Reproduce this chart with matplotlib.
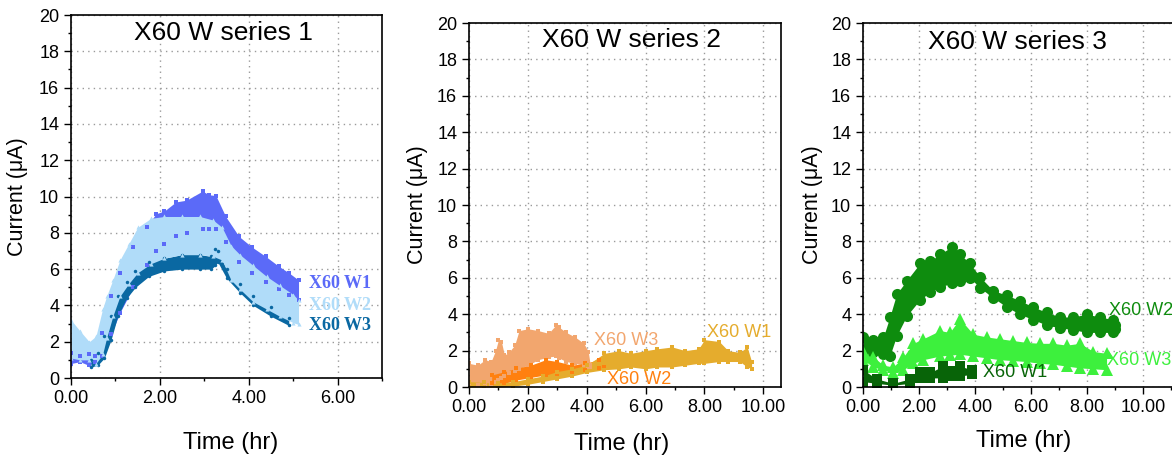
import matplotlib
matplotlib.use("Agg")
import matplotlib.pyplot as plt
from matplotlib.ticker import MultipleLocator, FormatStrFormatter

plt.rcParams['font.family'] = ['Liberation Sans', 'DejaVu Sans']

# ---------------------------------------------------------------------------
# Series 1: current envelopes (lower / upper edge of each point cloud), uA
# ---------------------------------------------------------------------------
s1_w1_t = [0, 0.2, 0.4, 0.55, 0.7, 0.9, 1.1, 1.4, 1.7, 1.91, 2.1, 2.36, 2.6,
           2.96, 3.1, 3.26, 3.48, 3.78, 4.08, 4.38, 4.68, 4.9, 5.12]
s1_w1_hi = [1.4, 1.2, 1.3, 1.2, 2.5, 4.5, 5.8, 7.2, 8.3, 9.05, 9.2, 9.7, 9.8,
            10.3, 10.1, 10.05, 8.9, 7.8, 7.2, 6.7, 6.15, 5.8, 5.4]
s1_w1_lo = [0.8, 0.9, 0.7, 0.9, 1.2, 2.4, 3.6, 5.0, 6.2, 7.0, 7.4, 7.8, 8.0,
            8.2, 8.2, 8.2, 7.5, 6.4, 5.8, 5.3, 4.9, 4.6, 4.3]

s1_w2_t = [0, 0.2, 0.41, 0.56, 0.71, 0.8, 0.94, 1.1, 1.3, 1.5, 1.8, 2.1, 2.5,
           2.9, 3.2, 3.4, 3.6, 3.8, 4.1, 4.4, 4.7, 5.0, 5.12]
s1_w2_hi = [3.2, 2.6, 2.0, 2.3, 3.8, 4.5, 5.4, 6.5, 7.4, 8.3, 8.8, 8.9, 8.9,
            8.9, 8.7, 8.3, 7.3, 6.8, 6.2, 5.6, 5.1, 4.6, 4.3]
s1_w2_lo = [1.1, 1.0, 1.0, 0.8, 1.3, 2.2, 3.4, 4.5, 5.2, 5.8, 6.3, 6.6, 6.8,
            6.8, 6.7, 6.5, 5.4, 4.9, 4.2, 3.8, 3.4, 3.05, 2.95]

s1_w3_t = [0.45, 0.6, 0.75, 0.9, 1.05, 1.25, 1.45, 1.75, 2.1, 2.5, 2.9, 3.15,
           3.25, 3.3, 3.5, 3.8, 4.1, 4.5, 4.9]
s1_w3_hi = [1.0, 1.4, 2.3, 3.4, 4.5, 5.3, 5.9, 6.4, 6.6, 6.8, 6.8, 6.7,
            7.1, 7.0, 6.0, 5.2, 4.5, 3.9, 3.3]
s1_w3_lo = [0.6, 0.7, 1.1, 2.1, 3.4, 4.4, 5.0, 5.6, 5.9, 6.0, 6.0, 6.0,
            6.2, 6.4, 5.5, 4.7, 4.0, 3.4, 2.9]

# ---------------------------------------------------------------------------
# Series 2
# ---------------------------------------------------------------------------
s2_w1_t = [0, 0.5, 1.0, 1.5, 2.0, 2.5, 3.0, 3.5, 4.0, 4.6, 5.1, 5.5, 6.0,
           6.4, 6.9, 7.35, 7.8, 8.0, 8.5, 8.8, 9.2, 9.45, 9.6]
s2_w1_hi = [0.3, 0.25, 0.2, 0.3, 0.45, 0.6, 0.85, 1.0, 1.2, 1.85, 2.0, 1.85,
            2.0, 2.1, 2.2, 2.0, 2.1, 2.6, 2.5, 2.0, 1.9, 2.2, 1.4]
s2_w1_lo = [0.0, 0.0, 0.0, 0.05, 0.15, 0.3, 0.45, 0.6, 0.8, 0.95, 1.0, 1.1,
            1.0, 1.1, 1.1, 1.2, 1.3, 1.3, 1.4, 1.4, 1.4, 1.1, 1.0]

s2_w2_t = [0.77, 1.2, 1.6, 2.1, 2.6, 3.0, 3.5, 3.95, 4.4, 4.57]
s2_w2_hi = [0.66, 0.84, 1.03, 1.2, 1.5, 1.4, 1.2, 1.3, 1.5, 1.85]
s2_w2_lo = [0.2, 0.2, 0.38, 0.53, 0.66, 0.71, 0.84, 0.93, 1.03, 1.1]

s2_w3_t = [0, 0.3, 0.55, 0.75, 0.9, 1.0, 1.1, 1.2, 1.35, 1.55, 1.7, 2.0,
           2.35, 2.7, 2.95, 3.05, 3.3, 3.6, 3.9, 4.05, 4.12]
s2_w3_hi = [1.3, 1.2, 1.5, 1.4, 2.0, 2.6, 2.5, 1.75, 1.9, 2.3, 3.1, 3.2,
            3.1, 2.95, 3.4, 3.3, 3.0, 2.75, 2.4, 1.95, 1.2]
s2_w3_lo = [0.1, 0.1, 0.1, 0.15, 0.3, 0.4, 0.5, 0.6, 0.75, 0.9, 1.0, 1.2,
            1.5, 1.65, 1.7, 1.6, 1.4, 1.3, 1.2, 1.1, 1.1]

# ---------------------------------------------------------------------------
# Series 3 (marker centres of the upper / lower rows)
# ---------------------------------------------------------------------------
s3_w1_t = [0, 0.49, 1.08, 1.68, 2.04, 2.4, 2.87, 3.2, 3.46, 3.88]
s3_w1_hi = [0.95, 0.45, 0.2, 0.45, 0.8, 0.8, 1.15, 0.9, 1.15, 0.95]
s3_w1_lo = [0.3, 0.2, 0.1, 0.2, 0.5, 0.5, 0.5, 0.6, 0.6, 0.7]

s3_w2_t = [0, 0.37, 0.73, 0.96, 1.2, 1.56, 2.04, 2.39, 2.75, 3.17, 3.46, 3.82,
           4.18, 4.65, 5.13, 5.6, 6.08, 6.56, 7.04, 7.5, 7.99, 8.46, 8.94, 9.0]
s3_w2_hi = [2.75, 2.6, 2.75, 3.85, 5.1, 5.85, 6.8, 6.9, 7.3, 7.7, 7.3, 6.8,
            6.05, 5.3, 5.05, 4.75, 4.4, 4.1, 3.85, 3.85, 4.0, 3.85, 3.7, 3.4]
s3_w2_lo = [2.05, 1.95, 1.8, 1.7, 2.8, 3.9, 4.8, 5.2, 5.5, 5.7, 5.8, 6.0,
            5.45, 4.9, 4.4, 4.0, 3.7, 3.4, 3.25, 3.15, 3.0, 3.0, 3.0, 3.2]

s3_w3_t = [0, 0.37, 0.73, 1.08, 1.44, 1.8, 2.15, 2.75, 3.1, 3.46, 3.94, 4.42,
           4.89, 5.37, 5.85, 6.32, 6.8, 7.27, 7.75, 8.23, 8.7]
s3_w3_hi = [2.0, 1.65, 1.2, 1.1, 1.65, 2.4, 2.65, 3.1, 3.0, 3.75, 2.9, 2.75,
            2.65, 2.55, 2.45, 2.4, 2.4, 2.3, 2.4, 1.95, 1.85]
s3_w3_lo = [1.5, 1.1, 0.95, 0.75, 0.95, 1.3, 1.5, 1.7, 1.75, 1.8, 1.7, 1.6,
            1.5, 1.45, 1.4, 1.3, 1.25, 1.15, 1.05, 1.0, 0.95]

labels = ['X60 W1', 'X60 W2', 'X60 W3']


def band(ax, t, lo, hi, color, marker, ms):
    ax.fill_between(t, lo, hi, color=color, lw=0)
    ax.plot(t, hi, ls='none', marker=marker, ms=ms, color=color, mew=0)
    ax.plot(t, lo, ls='none', marker=marker, ms=ms, color=color, mew=0)


def style_axes(ax, xmax, title, title_xy, ylab_x, xlab_xy):
    ax.set_xlim(0, xmax)
    ax.set_ylim(0, 20)
    ax.xaxis.set_major_locator(MultipleLocator(2))
    ax.xaxis.set_minor_locator(MultipleLocator(1))
    ax.yaxis.set_major_locator(MultipleLocator(2))
    ax.yaxis.set_minor_locator(MultipleLocator(1))
    ax.xaxis.set_major_formatter(FormatStrFormatter('%.2f'))
    ax.tick_params(which='major', direction='out', length=5, width=1,
                   labelsize=13, colors='black')
    ax.tick_params(which='minor', direction='out', length=2.5, width=1)
    ax.grid(True, which='major', ls=(0, (1, 3)), color='#9a9a9a', lw=1)
    ax.set_axisbelow(True)
    for sp in ax.spines.values():
        sp.set_linewidth(1.2)
    ax.text(title_xy[0], title_xy[1], title, transform=ax.transAxes,
            ha='center', va='center', fontsize=19)
    ax.set_ylabel('Current (μA)', fontsize=15.5)
    ax.yaxis.set_label_coords(ylab_x, 0.5)
    ax.set_xlabel('Time (hr)', fontsize=17)
    ax.xaxis.set_label_coords(*xlab_xy)


fig = plt.figure(figsize=(11.72, 4.61), dpi=100)

# ---- series 1 ----
ax1 = fig.add_axes([0.0606, 0.180, 0.2654, 0.7874])
c1 = ['#5b6af8', '#b0dcf9', '#0a68a2']
band(ax1, s1_w1_t, s1_w1_lo, s1_w1_hi, c1[0], 's', 2.5)
band(ax1, s1_w3_t, s1_w3_lo, s1_w3_hi, c1[2], 'o', 2.5)
band(ax1, s1_w2_t, s1_w2_lo, s1_w2_hi, c1[1], '^', 3)
style_axes(ax1, 7.0, 'X60 W series 1', (0.49, 0.95), -0.138, (0.513, -0.149))
serif = ['Liberation Serif', 'DejaVu Serif']
for lab, col, y in zip(labels, c1, [5.23, 3.97, 2.92]):
    ax1.text(5.36, y, lab, color=col, fontsize=13, fontweight='bold',
             family=serif, va='center', ha='left')

# ---- series 2 ----
ax2 = fig.add_axes([0.4002, 0.1605, 0.2662, 0.7896])
c2 = ['#e5ac2d', '#ff800f', '#f2a66e']
band(ax2, s2_w3_t, s2_w3_lo, s2_w3_hi, c2[2], 's', 3)
band(ax2, s2_w2_t, s2_w2_lo, s2_w2_hi, c2[1], 's', 3)
band(ax2, s2_w1_t, s2_w1_lo, s2_w1_hi, c2[0], 's', 3)
style_axes(ax2, 10.6, 'X60 W series 2', (0.52, 0.953), -0.131, (0.49, -0.126))
for lab, col, x, y in zip(labels, c2, [8.1, 4.69, 4.25], [2.97, 0.44, 2.58]):
    ax2.text(x, y, lab, color=col, fontsize=13, va='center', ha='left')

# ---- series 3 ----
ax3 = fig.add_axes([0.7363, 0.1605, 0.2676, 0.7896])
c3 = ['#086408', '#0e8c0e', '#3df03d']
band(ax3, s3_w2_t, s3_w2_lo, s3_w2_hi, c3[1], 'o', 8)
band(ax3, s3_w3_t, s3_w3_lo, s3_w3_hi, c3[2], '^', 8)
band(ax3, s3_w1_t, s3_w1_lo, s3_w1_hi, c3[0], 's', 7)
style_axes(ax3, 11.2, 'X60 W series 3', (0.494, 0.948), -0.128, (0.513, -0.118))
for lab, col, x, y in zip(labels, c3, [4.29, 8.79, 8.71], [0.77, 4.23, 1.48]):
    ax3.text(x, y, lab, color=col, fontsize=13, va='center', ha='left')

fig.savefig('out.png', dpi=100)
